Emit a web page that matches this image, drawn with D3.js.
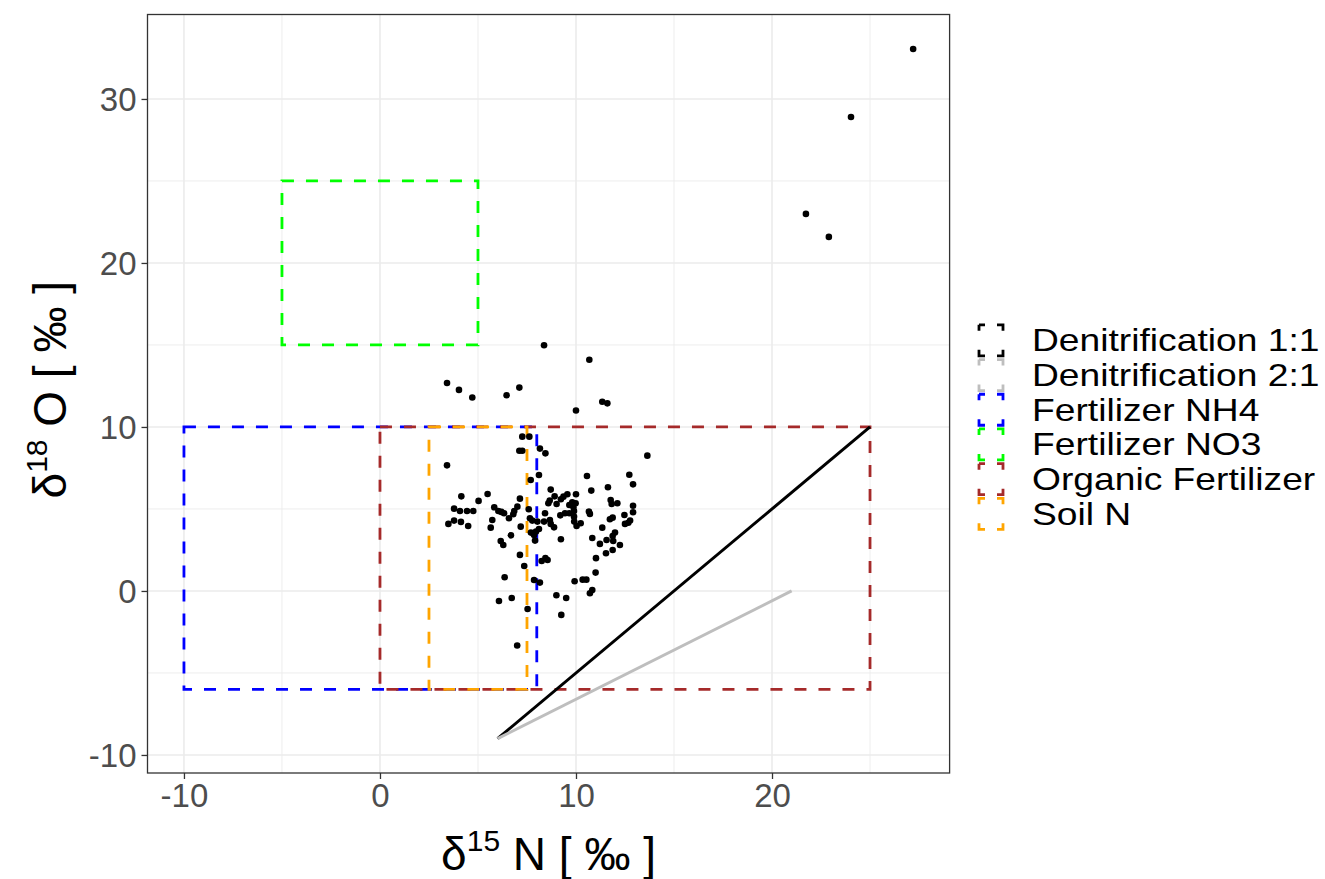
<!DOCTYPE html>
<html>
<head>
<meta charset="utf-8">
<script src="https://cdn.jsdelivr.net/npm/d3@7/dist/d3.min.js"></script>
<style>
  body { margin: 0; background: #fff; }
  svg text { font-family: "Liberation Sans", Arial, sans-serif; }
</style>
</head>
<body>
<div id="chart"></div>
<script>
const d15N = [8.37, 10.68, 3.42, 4.03, 4.71, 6.46, 7.11, 10.0, 11.34, 11.6, 7.26, 7.62, 7.11, 7.26, 8.16, 8.44, 13.64,
  3.42, 8.11, 10.56, 12.72, 12.91, 7.69, 11.63, 10.78, 8.71, 4.15, 5.49, 5.03, 7.14, 8.91, 8.66, 8.59, 9.56, 9.36, 9.23,
  10.0, 9.01, 9.81, 9.98, 9.66, 9.87, 11.77, 12.11, 11.82, 12.91, 12.91, 3.78, 4.08, 4.44, 4.76, 5.83, 6.04, 6.19, 6.33,
  6.85, 7.01, 7.59, 6.58, 5.73, 6.8, 8.42, 9.2, 9.44, 9.66, 9.9, 9.9, 10.66, 10.71, 3.49, 3.78, 4.13, 4.5, 5.65, 7.18,
  7.65, 7.77, 8.03, 8.37, 8.67, 8.71, 8.88, 8.11, 7.96, 7.7, 9.91, 10.03, 10.24, 11.73, 11.87, 12.47, 12.76, 12.67, 12.5,
  11.34, 11.99, 11.87, 7.86, 6.68, 7.91, 6.16, 6.29, 9.23, 10.83, 11.56, 11.9, 11.22, 12.24, 11.87, 7.14, 8.44, 11.02,
  8.55, 8.25, 11.53, 7.36, 11.0, 6.36, 7.86, 8.16, 9.93, 10.34, 10.53, 10.83, 10.71, 9.0, 9.5, 6.72, 6.07, 7.53, 9.25, 7.0,
  27.2, 24.03, 21.73, 22.9];
const d18O = [14.98, 14.1, 12.68, 12.26, 11.8, 11.93, 12.4, 11.0, 11.54, 11.44, 9.41, 9.41, 8.55, 8.55, 8.68, 8.39, 8.25,
  7.66, 7.07, 7.01, 7.09, 6.5, 6.77, 6.32, 6.12, 6.18, 5.77, 5.91, 5.49, 5.63, 5.77, 5.51, 5.35, 5.9, 5.75, 5.59,
  5.9, 5.3, 5.41, 5.35, 5.24, 5.1, 5.55, 5.35, 5.3, 5.2, 4.8, 5.02, 4.88, 4.88, 4.88, 5.1, 4.88, 4.82, 4.74,
  4.88, 5.14, 4.98, 4.43, 4.33, 4.68, 4.74, 4.61, 4.74, 4.74, 4.88, 4.53, 4.84, 4.7, 4.09, 4.29, 4.21, 3.96, 3.86, 3.92,
  4.43, 4.29, 4.23, 4.23, 4.33, 4.09, 3.88, 3.78, 3.62, 3.56, 4.23, 3.96, 4.13, 4.37, 4.47, 4.63, 4.29, 4.16, 4.09,
  3.86, 3.56, 3.35, 3.41, 3.39, 3.07, 3.05, 2.8, 3.15, 3.23, 3.11, 3.05, 2.87, 2.8, 2.5, 2.2, 2.0, 2.0,
  1.89, 1.83, 2.3, 1.52, 1.12, 0.84, 0.67, 0.51, 0.59, 0.69, 0.69, 0.06, -0.14, -0.26, -0.43, -0.43, -0.61, -1.1, -1.46, -3.33,
  33.05, 28.9, 22.99, 21.59];

// source boxes
const sourceNames = ["Fertilizer NH4", "Fertilizer NO3", "Organic Fertilizer", "Soil N"];
const sourceNmin = [-10, -5, 0, 2.5];
const sourceNmax = [8, 5, 25, 7.5];
const sourceOmin = [-6, 15, -6, -6];
const sourceOmax = [10, 25, 10, 10];

// denitrification lines
const denitNames = ["Denitrification 1:1", "Denitrification 2:1"];
const denitN0 = [6, 6];
const denitO0 = [-9, -9];
const denitN1 = [25, 21];
const denitO1 = [10, 0];

const legendLabels = ["Denitrification 1:1", "Denitrification 2:1", "Fertilizer NH4", "Fertilizer NO3", "Organic Fertilizer", "Soil N"];
const xTicks = [-10, 0, 10, 20];
const yTicks = [-10, 0, 10, 20, 30];
const xMinor = [-5, 5, 15, 25];
const yMinor = [-5, 5, 15, 25];

const colour = {
  "Denitrification 1:1": "#000000",
  "Denitrification 2:1": "#BEBEBE",
  "Fertilizer NH4": "#0000FF",
  "Fertilizer NO3": "#00FF00",
  "Organic Fertilizer": "#A52A2A",
  "Soil N": "#FFA500"
};

const W = 1325, H = 879;
const svg = d3.select("#chart").append("svg").attr("width", W).attr("height", H);

const x = d3.scaleLinear().domain([-11.86, 29.06]).range([147.5, 949.6]);
const y = d3.scaleLinear().domain([-11.1, 35.15]).range([773, 14.5]);
const [x0, x1] = x.range();
const [y0, y1] = y.range();

// grid
const grid = svg.append("g");
grid.selectAll(".vmin").data(xMinor).join("line")
  .attr("x1", d => x(d)).attr("x2", d => x(d)).attr("y1", y1).attr("y2", y0)
  .attr("stroke", "#EBEBEB").attr("stroke-width", 0.9);
grid.selectAll(".hmin").data(yMinor).join("line")
  .attr("y1", d => y(d)).attr("y2", d => y(d)).attr("x1", x0).attr("x2", x1)
  .attr("stroke", "#EBEBEB").attr("stroke-width", 0.9);
grid.selectAll(".vmaj").data(xTicks).join("line")
  .attr("x1", d => x(d)).attr("x2", d => x(d)).attr("y1", y1).attr("y2", y0)
  .attr("stroke", "#EBEBEB").attr("stroke-width", 1.6);
grid.selectAll(".hmaj").data(yTicks).join("line")
  .attr("y1", d => y(d)).attr("y2", d => y(d)).attr("x1", x0).attr("x2", x1)
  .attr("stroke", "#EBEBEB").attr("stroke-width", 1.6);

// source boxes, drawn as paths from the top-left corner clockwise
const boxes = svg.append("g");
sourceNames.forEach((name, i) => {
  const path = d3.path();
  path.moveTo(x(sourceNmin[i]), y(sourceOmax[i]));
  path.lineTo(x(sourceNmax[i]), y(sourceOmax[i]));
  path.lineTo(x(sourceNmax[i]), y(sourceOmin[i]));
  path.lineTo(x(sourceNmin[i]), y(sourceOmin[i]));
  path.closePath();
  boxes.append("path")
    .attr("d", path.toString())
    .attr("fill", "none")
    .attr("stroke", colour[name])
    .attr("stroke-width", 2.8)
    .attr("stroke-dasharray", "12,12");
});

// denitrification segments
svg.append("g").selectAll("line").data(denitNames).join("line")
  .attr("x1", (d, i) => x(denitN0[i])).attr("y1", (d, i) => y(denitO0[i]))
  .attr("x2", (d, i) => x(denitN1[i])).attr("y2", (d, i) => y(denitO1[i]))
  .attr("stroke", d => colour[d])
  .attr("stroke-width", 3);

// samples
svg.append("g").selectAll("circle").data(d15N).join("circle")
  .attr("cx", d => x(d)).attr("cy", (d, i) => y(d18O[i]))
  .attr("r", 3.3).attr("fill", "#000");

// panel border
svg.append("rect")
  .attr("x", x0).attr("y", y1).attr("width", x1 - x0).attr("height", y0 - y1)
  .attr("fill", "none").attr("stroke", "#333333").attr("stroke-width", 1.3);

// axes
const fmt = d => String(d); // plain hyphen for negatives, as in R
const xAxis = svg.append("g").attr("transform", `translate(0,${y0})`)
  .call(d3.axisBottom(x).tickValues(xTicks).tickSize(6).tickPadding(5).tickFormat(fmt));
const yAxis = svg.append("g").attr("transform", `translate(${x0},0)`)
  .call(d3.axisLeft(y).tickValues(yTicks).tickSize(6).tickPadding(5).tickFormat(fmt));
[xAxis, yAxis].forEach(a => {
  a.select(".domain").remove();
  a.selectAll(".tick line").attr("stroke", "#333333").attr("stroke-width", 1.3);
  a.selectAll(".tick text").attr("fill", "#4D4D4D").style("font-size", "33px")
    .style("font-family", "'Liberation Sans', Arial, sans-serif");
});
yAxis.selectAll(".tick text").attr("dy", "0.36em");

// axis titles
const xt = svg.append("text").attr("x", (x0 + x1) / 2).attr("y", 870)
  .attr("text-anchor", "middle").style("font-size", "46px").attr("fill", "#000");
xt.append("tspan").text("δ");
xt.append("tspan").attr("dy", -19).style("font-size", "30px").text("15");
xt.append("tspan").attr("dy", 19).text(" N [ ‰ ]");

const yt = svg.append("text")
  .attr("transform", `translate(66,${(y0 + y1) / 2 - 4}) rotate(-90)`)
  .attr("text-anchor", "middle").style("font-size", "46px").attr("fill", "#000");
yt.append("tspan").text("δ");
yt.append("tspan").attr("dy", -19).style("font-size", "30px").text("18");
yt.append("tspan").attr("dy", 19).text(" O [ ‰ ]");

// legend (labels in the reference are wide, so they get a horizontal stretch)
const keyW = 24, keyH = 31, rowH = 34.7, legX = 979, legY = 323;
const a = 6;
const keyDash = [a, keyW - 2 * a, 2 * a, keyH - 2 * a, 2 * a, keyW - 2 * a, 2 * a, keyH - 2 * a, a, 0].join(",");
const leg = svg.append("g");
legendLabels.forEach((lab, i) => {
  const ky = legY + i * rowH + (rowH - keyH) / 2;
  leg.append("rect")
    .attr("x", legX).attr("y", ky).attr("width", keyW).attr("height", keyH)
    .attr("fill", "#fff").attr("stroke", colour[lab]).attr("stroke-width", 2.8)
    .attr("stroke-dasharray", keyDash);
  leg.append("text")
    .attr("transform", `translate(1032,${legY + i * rowH + rowH / 2}) scale(1.22,1)`)
    .attr("dy", "0.36em")
    .style("font-size", "30.5px").attr("fill", "#000")
    .text(lab);
});
</script>
</body>
</html>
